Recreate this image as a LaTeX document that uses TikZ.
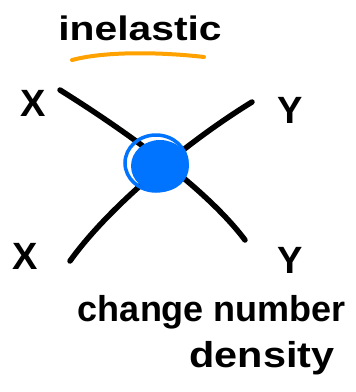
\documentclass[tikz,border=0pt]{standalone}
\usepackage{fontspec}
\setmainfont{Liberation Sans}
\usetikzlibrary{shapes.geometric, positioning, calc}
\definecolor{blobblue}{HTML}{0073FF}
\definecolor{markorange}{HTML}{FFA200}

\begin{document}
\begin{tikzpicture}[x=1pt, y=-1pt,
    leg/.style={line width=5.5pt, line cap=round, black},
    lbl/.style={font=\fontsize{38}{40}\selectfont\bfseries, text=black, inner sep=0}]
                \useasboundingbox (0,0) rectangle (356,392);

                \node[font=\fontsize{34}{40}\selectfont\bfseries, xscale=1.2, inner sep=0] (title) at (140, 28) {inelastic};
                \coordinate (ulA) at (72, 60);
                \coordinate (ulB) at (204, 57);
                \draw[markorange, line width=4pt, line cap=round] (ulA) .. controls (110, 50) and (170, 53) .. (ulB);

                \node[lbl] (Xin) at (33, 103) {X};
                \node[lbl] (Yout) at (290, 110) {Y};
                \node[lbl] (Xin2) at (25, 256) {X};
                \node[lbl] (Yout2) at (290, 260) {Y};

                \coordinate (a1) at (60, 90);
                \coordinate (a2) at (245, 240);
                \coordinate (b1) at (252, 102);
                \coordinate (b2) at (70, 261);

                \draw[leg] (a1) .. controls (100, 115) and (200, 180) .. (a2);
                \draw[leg] (b1) .. controls (190, 140) and (110, 205) .. (b2);

                \node[ellipse, minimum width=58pt, minimum height=52pt, inner sep=0, fill=blobblue] (blob) at (160, 166) {};
                \draw[blobblue, line width=3.5pt] (156, 163) ellipse (31pt and 28pt);

                \node[font=\fontsize{36}{40}\selectfont\bfseries, inner sep=0] (note1) at (212, 312) {change number};
                \node[font=\fontsize{36}{40}\selectfont\bfseries, xscale=1.15, inner sep=0] (note2) at (262, 358) {density};
            \end{tikzpicture}
\end{document}
